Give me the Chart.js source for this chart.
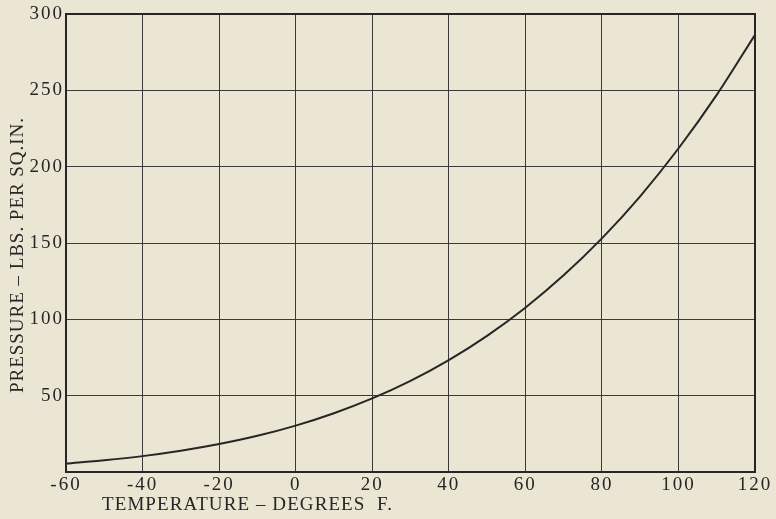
<!DOCTYPE html>
<html>
<head>
<meta charset="utf-8">
<script src="https://cdn.jsdelivr.net/npm/chart.js@4.4.1/dist/chart.umd.min.js"></script>
<style>
    html, body { margin: 0; padding: 0; background: #ebe5d3; }
    #wrap { width: 776px; height: 519px; }
</style>
</head>
<body>
<div id="wrap"><canvas id="pressureChart" width="776" height="519"></canvas></div>
<script>
// temperature (deg F) and pressure (lbs per sq.in.)
const temperatures = [-60, -50, -40, -30, -20, -10, 0, 10, 20, 30, 40, 50, 60, 70, 80, 90, 100, 110, 120];
const pressures = [5.5, 7.7, 10.4, 13.9, 18.3, 23.7, 30.4, 38.5, 48.2, 59.7, 73.3, 89.2, 107.6, 128.8, 153.0, 180.6, 211.9, 247.0, 286.4];
const xTicks = [-60, -40, -20, 0, 20, 40, 60, 80, 100, 120];
const yTicks = [0, 50, 100, 150, 200, 250, 300];

const xTitle = 'TEMPERATURE \u2013 DEGREES  F.';
const yTitle = 'PRESSURE \u2013 LBS. PER SQ.IN.';
const ink = '#262626';
const serif = '"Liberation Serif", "DejaVu Serif", serif';

// draw text so it spans a given length (old type is spaced out)
function spacedText(ctx, text, x, y, len) {
    ctx.letterSpacing = '0px';
    const w = ctx.measureText(text).width;
    const gap = (len - w) / (text.length - 1);
    ctx.letterSpacing = gap + 'px';
    ctx.fillText(text, x, y);
    ctx.letterSpacing = '0px';
}

const tickSpacing = {
    id: 'tickSpacing',
    beforeDraw(chart) { chart.ctx.letterSpacing = '2px'; },
    afterDatasetsDraw(chart) { chart.ctx.letterSpacing = '0px'; }
};

// frame and titles; titles sit off-centre in the original
const frameAndTitles = {
    id: 'frameAndTitles',
    afterDraw(chart) {
        const ctx = chart.ctx;
        const a = chart.chartArea;
        ctx.save();
        ctx.strokeStyle = ink;
        ctx.lineWidth = 2;
        ctx.strokeRect(a.left, a.top, a.right - a.left, a.bottom - a.top);

        ctx.fillStyle = ink;
        ctx.textBaseline = 'alphabetic';
        ctx.textAlign = 'left';
        ctx.font = '19px ' + serif;
        spacedText(ctx, xTitle, 102, 510, 290);

        ctx.translate(23, 393);
        ctx.rotate(-Math.PI / 2);
        spacedText(ctx, yTitle, 0, 0, 275);
        ctx.restore();
    }
};

const ctx = document.getElementById('pressureChart').getContext('2d');
new Chart(ctx, {
    type: 'line',
    data: {
        datasets: [{
            data: temperatures.map((t, i) => ({ x: t, y: pressures[i] })),
            borderColor: ink,
            borderWidth: 2,
            pointRadius: 0,
            fill: false,
            cubicInterpolationMode: 'monotone'
        }]
    },
    options: {
        responsive: false,
        animation: false,
        layout: {
            padding: { top: 14, right: 21, left: 0, bottom: 0 }
        },
        plugins: {
            legend: { display: false },
            tooltip: { enabled: false }
        },
        scales: {
            x: {
                type: 'linear',
                min: xTicks[0],
                max: xTicks[xTicks.length - 1],
                afterBuildTicks: (scale) => { scale.ticks = xTicks.map(v => ({ value: v })); },
                afterFit: (scale) => { scale.height = 47; },
                grid: { color: '#3a3a3a', lineWidth: 1, drawTicks: false },
                border: { color: ink, width: 2 },
                ticks: {
                    color: ink,
                    padding: 2,
                    font: { family: serif, size: 19 },
                    maxRotation: 0
                }
            },
            y: {
                type: 'linear',
                min: yTicks[0],
                max: yTicks[yTicks.length - 1],
                afterBuildTicks: (scale) => { scale.ticks = yTicks.map(v => ({ value: v })); },
                afterFit: (scale) => { scale.width = 66; },
                grid: { color: '#3a3a3a', lineWidth: 1, drawTicks: false },
                border: { color: ink, width: 2 },
                ticks: {
                    color: ink,
                    padding: 2,
                    font: { family: serif, size: 19 },
                    callback: (v) => v === 0 ? '' : v
                }
            }
        }
    },
    plugins: [tickSpacing, frameAndTitles]
});
</script>
</body>
</html>
